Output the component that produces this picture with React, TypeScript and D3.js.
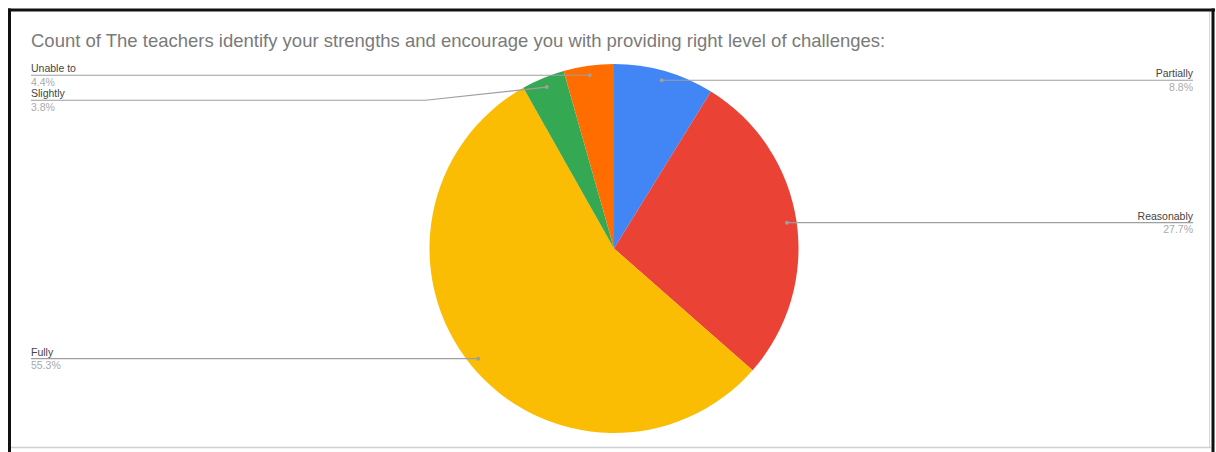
import React from "react";
import * as d3 from "d3";

const title =
  "Count of The teachers identify your strengths and encourage you with providing right level of challenges:";
const categories = ["Partially", "Reasonably", "Fully", "Slightly", "Unable to"];
const counts = [14, 44, 88, 6, 7];
const colors = ["#4285f4", "#ea4335", "#fbbc04", "#34a853", "#ff6d01"];

const W = 1216;
const H = 452;
const cx = 614;
const cy = 248.5;
const R = 184.5;
const dotR = R * 0.948;
const leftX = 31;
const rightX = 1193;
const minGap = 25;

export default function App() {
  const total = d3.sum(counts);
  const pie = d3.pie<number>().sort(null).value((d) => d)(counts);
  const arc = d3.arc<d3.PieArcDatum<number>>().innerRadius(0).outerRadius(R);

  const items = pie.map((p, i) => {
    const mid = (p.startAngle + p.endAngle) / 2;
    const dx = cx + Math.sin(mid) * dotR;
    const dy = cy - Math.cos(mid) * dotR;
    const side = Math.sin(mid) >= 0 ? "right" : "left";
    return {
      i,
      name: categories[i],
      pct: d3.format(".1%")(counts[i] / total),
      dx,
      dy,
      side,
      ly: dy,
    };
  });

  ["left", "right"].forEach((s) => {
    const arr = items.filter((d) => d.side === s).sort((a, b) => a.dy - b.dy);
    for (let k = 1; k < arr.length; k++) {
      if (arr[k].ly - arr[k - 1].ly < minGap) arr[k].ly = arr[k - 1].ly + minGap;
    }
  });

  const font = "'Liberation Sans', Arial, sans-serif";

  return (
    <svg
      width={W}
      height={H}
      style={{ position: "absolute", left: 0, top: 0, background: "#fff" }}
    >
      <rect x={0} y={0} width={W} height={H} fill="#fff" />
      <line x1={11} x2={1211} y1={447.5} y2={447.5} stroke="#d0d0d0" strokeWidth={1.5} />
      <line x1={1209.5} x2={1209.5} y1={12} y2={447} stroke="#d8d8d8" strokeWidth={1} />
      <line x1={8} x2={1215} y1={10} y2={10} stroke="#111" strokeWidth={3} />
      <line x1={9.5} x2={9.5} y1={8.5} y2={H} stroke="#111" strokeWidth={3} />
      <line x1={1213} x2={1213} y1={8.5} y2={H} stroke="#111" strokeWidth={3} />

      <text x={31} y={47} fontFamily={font} fontSize={18.5} fill="#7a7a7a">
        {title}
      </text>

      <g transform={`translate(${cx},${cy})`}>
        {pie.map((p, i) => (
          <path key={i} d={arc(p) || ""} fill={colors[i]} />
        ))}
      </g>

      {items.map((d) => {
        const bendX = d.side === "right" ? cx + R + 4 : cx - R - 4;
        const endX = d.side === "right" ? rightX : leftX;
        const straight = Math.abs(d.ly - d.dy) < 0.5;
        const pts = straight
          ? `${d.dx},${d.dy} ${endX},${d.ly}`
          : `${d.dx},${d.dy} ${bendX},${d.ly} ${endX},${d.ly}`;
        const anchor = d.side === "right" ? "end" : "start";
        return (
          <g key={d.i}>
            <polyline points={pts} fill="none" stroke="#9e9e9e" strokeWidth={1.2} />
            <circle cx={d.dx} cy={d.dy} r={2} fill="#9e9e9e" />
            <text
              x={endX}
              y={d.ly - 3}
              textAnchor={anchor}
              fontFamily={font}
              fontSize={10.5}
              fill="#444"
            >
              {d.name}
            </text>
            <text
              x={endX}
              y={d.ly + 10.5}
              textAnchor={anchor}
              fontFamily={font}
              fontSize={10.5}
              fill="#aaaaaa"
            >
              {d.pct}
            </text>
          </g>
        );
      })}
    </svg>
  );
}
